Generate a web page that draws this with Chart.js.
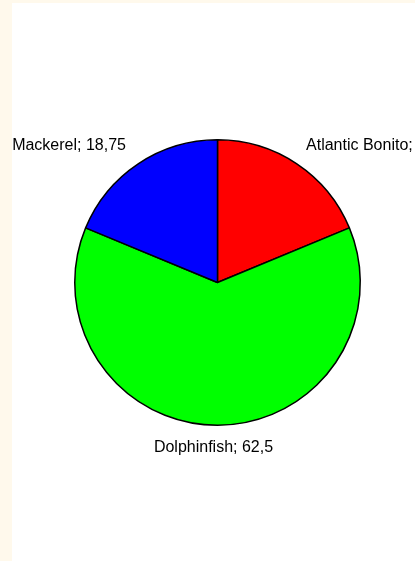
<!DOCTYPE html>
<html>
<head>
<meta charset="utf-8">
<script src="https://cdn.jsdelivr.net/npm/chart.js@4/dist/chart.umd.min.js"></script>
<style>
    html, body {
        margin: 0;
        padding: 0;
        background: #FFF9EC;
        width: 415px;
        height: 561px;
        overflow: hidden;
    }
    #wrap {
        position: absolute;
        left: 12px;
        top: 3px;
        width: 403px;
        height: 558px;
        background: #ffffff;
    }
</style>
</head>
<body>
<div id="wrap">
    <canvas id="fishChart" width="403" height="558"></canvas>
</div>
<script>
// chart data
const fishNames = ['Atlantic Bonito', 'Dolphinfish', 'Mackerel'];
const fishShares = [18.75, 62.5, 18.75];
const sliceColors = ['#FF0000', '#00FF00', '#0000FF'];

// labels outside the pie, "Name; value" with decimal comma
const outsideLabels = {
    id: 'outsideLabels',
    afterDatasetsDraw(chart) {
        const ctx = chart.ctx;
        const meta = chart.getDatasetMeta(0);
        ctx.save();
        ctx.font = '16px "Liberation Sans", Arial, sans-serif';
        ctx.fillStyle = '#000000';
        ctx.textBaseline = 'middle';
        meta.data.forEach((arc, i) => {
            const p = arc.getProps(['x', 'y', 'startAngle', 'endAngle', 'outerRadius'], true);
            const mid = (p.startAngle + p.endAngle) / 2;
            const r = p.outerRadius + 22;
            let x = p.x + Math.cos(mid) * r;
            const y = p.y + Math.sin(mid) * r;
            const dx = x - p.x;
            if (dx > 10) {
                ctx.textAlign = 'left';
                x -= 3;
            } else if (dx < -10) {
                ctx.textAlign = 'right';
            } else {
                ctx.textAlign = 'center';
                x -= 4;
            }
            const text = fishNames[i] + '; ' + String(fishShares[i]).replace('.', ',');
            ctx.fillText(text, x, y);
        });
        ctx.restore();
    }
};

const ctx = document.getElementById('fishChart').getContext('2d');

const pieChart = new Chart(ctx, {
    type: 'pie',
    data: {
        labels: fishNames,
        datasets: [{
            data: fishShares,
            backgroundColor: sliceColors,
            borderColor: '#000000',
            borderWidth: 1.5
        }]
    },
    options: {
        responsive: false,
        animation: false,
        layout: {
            padding: { left: 62, right: 54, top: 136, bottom: 135 }
        },
        plugins: {
            legend: { display: false },
            tooltip: { enabled: false }
        }
    },
    plugins: [outsideLabels]
});
</script>
</body>
</html>
